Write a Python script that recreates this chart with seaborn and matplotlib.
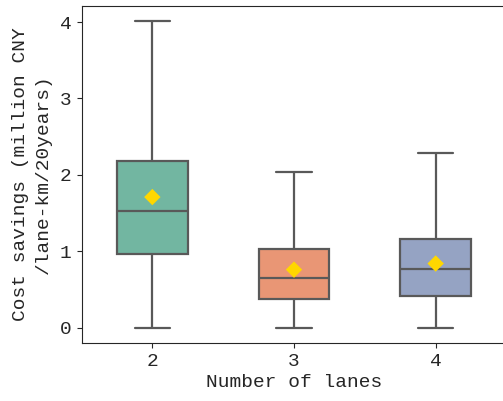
import numpy as np
import pandas as pd
import matplotlib
matplotlib.use("Agg")
import matplotlib.pyplot as plt
import seaborn as sns

lanes = ["2", "3", "4"]
mins = [0.0, 0.0, 0.0]
q1s = [0.97, 0.37, 0.41]
medians = [1.53, 0.65, 0.77]
q3s = [2.18, 1.03, 1.16]
maxs = [4.01, 2.04, 2.29]
means = [1.71, 0.76, 0.84]

rows = []
for i, lane in enumerate(lanes):
    for v in (mins[i], q1s[i], medians[i], q3s[i], maxs[i]):
        rows.append({"lanes": lane, "value": v})
df = pd.DataFrame(rows)
mean_df = pd.DataFrame({"lanes": lanes, "value": means})

sns.set_style("ticks")
plt.rcParams['font.family'] = ['Liberation Mono', 'DejaVu Sans']

fig = plt.figure(figsize=(5.03, 4.01), dpi=100)
ax = fig.add_axes([81.5/503, 58/401, 425/503, 337/401])

sns.boxplot(data=df, x="lanes", y="value", hue="lanes", palette="Set2",
            order=lanes, width=0.5, whis=(0, 100), linewidth=1.6,
            legend=False, ax=ax)
sns.scatterplot(data=mean_df, x="lanes", y="value", marker="D", color="gold",
                s=70, edgecolor="none", zorder=5, ax=ax)

ax.set_xlim(-0.5, 2.5)
ax.set_ylim(-0.2, 4.21)
ax.set_yticks([0, 1, 2, 3, 4])
ax.set_xlabel("Number of lanes", fontsize=14, labelpad=3)
ax.set_ylabel("Cost savings (million CNY\n/lane-km/20years)", fontsize=14,
              linespacing=1.45, labelpad=6)
ax.tick_params(labelsize=14)
ax.spines['right'].set_visible(False)

fig.savefig("out.png", dpi=100)
